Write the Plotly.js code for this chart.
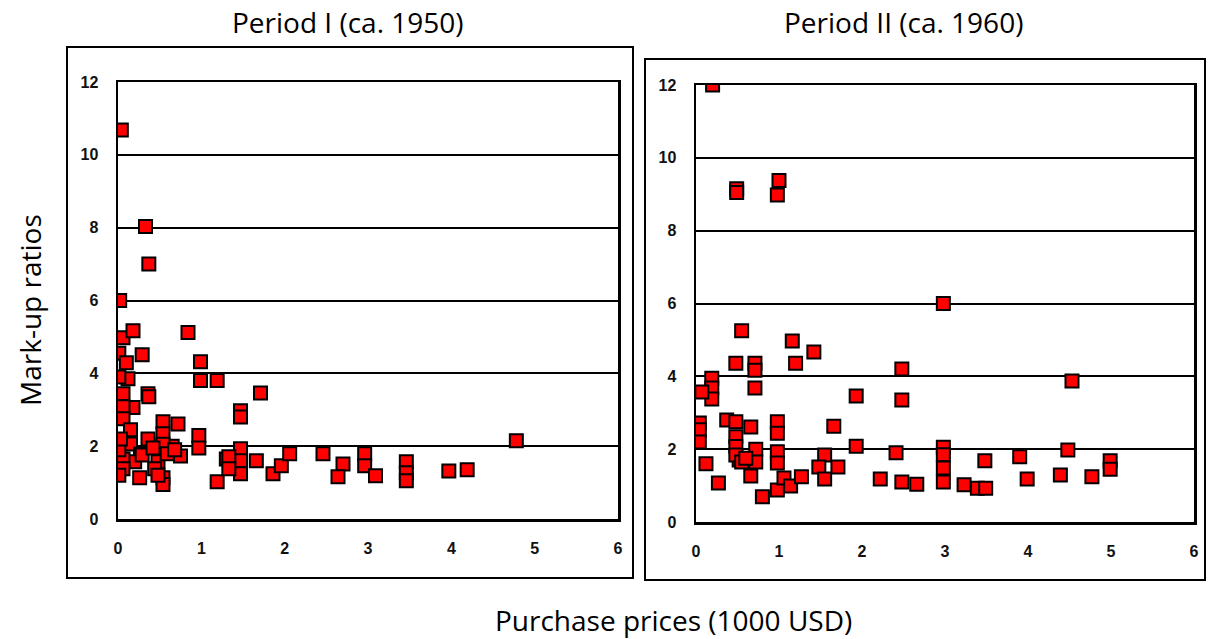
<!DOCTYPE html>
<html>
<head>
<meta charset="utf-8">
<script src="https://cdn.plot.ly/plotly-3.0.1.min.js"></script>
<style>html,body{margin:0;padding:0;background:#fff;}#chart{width:1209px;height:639px;}</style>
</head>
<body>
<div id="chart"></div>
<script>
// Period I (ca. 1950): purchase price (1000 USD) and mark-up ratio
const period1Price = [0.04,0.33,0.37,0.02,0.06,0.18,0.84,0.29,0.01,0.10,0.99,0.12,0.01,0.99,1.19,0.06,0.36,0.37,1.71,1.47,1.47,0.18,0.06,0.06,0.15,0.54,0.72,0.54,0.97,0.97,0.36,0.15,0.65,0.54,0.27,0.75,0.20,0.48,0.59,0.06,0.06,0.01,0.01,0.03,0.26,0.54,0.54,0.44,1.19,1.30,1.47,1.47,1.47,1.33,1.33,1.66,1.86,1.96,2.06,2.46,2.70,2.64,2.96,2.96,3.09,3.46,3.46,3.46,3.97,4.19,4.78,0.29,0.48,0.68,0.42];
const period1Markup = [10.68,8.03,7.00,6.00,4.98,5.17,5.12,4.51,4.55,4.29,4.32,3.85,3.90,3.80,3.80,3.44,3.44,3.36,3.46,2.97,2.80,3.06,3.08,2.75,2.45,2.67,2.61,2.34,2.29,1.95,2.20,2.06,2.00,2.05,1.78,1.73,1.57,1.57,1.79,1.65,1.38,1.90,1.20,2.20,1.13,1.13,0.95,1.38,1.02,1.65,1.93,1.60,1.24,1.71,1.38,1.60,1.24,1.46,1.79,1.79,1.51,1.16,1.79,1.46,1.19,1.57,1.27,1.05,1.32,1.35,2.15,1.76,1.20,1.90,1.95];

// Period II (ca. 1960)
const period2Price = [0.20,0.49,0.49,0.98,1.00,2.98,0.55,1.16,1.42,0.48,1.20,0.71,0.71,0.71,0.19,0.19,0.19,0.07,2.48,2.48,1.93,1.66,1.93,2.41,2.22,2.48,2.66,0.04,0.04,0.04,0.37,0.48,0.66,0.48,0.48,0.98,0.98,0.72,0.72,0.52,0.48,0.98,0.98,0.12,0.27,0.66,0.80,0.98,1.06,1.14,1.27,1.55,1.48,1.71,1.55,2.98,2.98,2.98,2.98,3.23,3.39,3.49,3.48,3.90,3.99,4.39,4.48,4.53,4.77,4.99,4.99,0.55,0.60];
const period2Markup = [12.00,9.15,9.05,8.98,9.38,6.00,5.25,4.97,4.67,4.36,4.36,4.36,4.17,3.68,3.95,3.68,3.38,3.57,4.20,3.35,3.46,2.63,2.08,1.90,1.18,1.10,1.04,2.72,2.53,2.20,2.80,2.75,2.61,2.34,2.07,2.75,2.44,2.00,1.65,1.70,1.84,1.93,1.62,1.60,1.07,1.26,0.69,0.88,1.21,0.99,1.24,1.84,1.51,1.51,1.18,2.05,1.85,1.48,1.10,1.02,0.93,0.93,1.68,1.79,1.18,1.29,1.98,3.87,1.24,1.68,1.45,1.65,1.75];

const xTicks = [0,1,2,3,4,5,6];
const yTicks = [0,2,4,6,8,10,12];
const panelTitles = ["Period I (ca. 1950)", "Period II (ca. 1960)"];
const xTitle = "Purchase prices (1000 USD)";
const yTitle = "Mark-up ratios";

const W = 1209, H = 639;
const px = v => v / W, py = v => 1 - v / H;

const marker = {symbol: 'square', size: 13, color: '#ff0000', line: {color: '#000', width: 2}};
const traces = [
  {x: period1Price, y: period1Markup, type: 'scatter', mode: 'markers', marker: marker, xaxis: 'x', yaxis: 'y', cliponaxis: true, hoverinfo: 'x+y'},
  {x: period2Price, y: period2Markup, type: 'scatter', mode: 'markers', marker: marker, xaxis: 'x2', yaxis: 'y2', cliponaxis: true, hoverinfo: 'x+y'}
];

const tickFont = {family: 'Liberation Sans, Arial, sans-serif', size: 16, color: '#111', weight: 'bold'};
function xAx(dom, anchor) {
  return {domain: dom, anchor: anchor, range: [0, 6], tickvals: xTicks, ticktext: xTicks.map(String),
    showgrid: false, zeroline: false, showline: true, mirror: true, linecolor: '#000', linewidth: 2.5,
    ticks: '', tickfont: tickFont, ticklabelstandoff: 13, fixedrange: true};
}
function yAx(dom, anchor) {
  return {domain: dom, anchor: anchor, range: [0, 12], tickvals: yTicks, ticktext: yTicks.map(String),
    showgrid: true, gridcolor: '#000', gridwidth: 2, zeroline: false, showline: true, mirror: true,
    linecolor: '#000', linewidth: 2.5, ticks: '', tickfont: tickFont, ticklabelstandoff: 14, fixedrange: true};
}

const titleFont = {family: 'Open Sans, Noto Sans, sans-serif', size: 28, color: '#000'};
const layout = {
  width: W, height: H, margin: {l: 0, r: 0, t: 0, b: 0},
  paper_bgcolor: '#fff', plot_bgcolor: '#fff', showlegend: false,
  xaxis: xAx([px(118), px(618)], 'y'),
  yaxis: yAx([py(519), py(82)], 'x'),
  xaxis2: xAx([px(696), px(1194)], 'y2'),
  yaxis2: yAx([py(522), py(85)], 'x2'),
  shapes: [
    {type: 'rect', xref: 'paper', yref: 'paper', x0: px(67), x1: px(633), y0: py(578), y1: py(47), line: {color: '#000', width: 2}},
    {type: 'rect', xref: 'paper', yref: 'paper', x0: px(645), x1: px(1205), y0: py(580), y1: py(59), line: {color: '#000', width: 2}}
  ],
  annotations: [
    {text: panelTitles[0], xref: 'paper', yref: 'paper', x: px(348), y: py(22), showarrow: false, font: titleFont, xanchor: 'center', yanchor: 'middle'},
    {text: panelTitles[1], xref: 'paper', yref: 'paper', x: px(903), y: py(22), showarrow: false, font: titleFont, xanchor: 'center', yanchor: 'middle'},
    {text: xTitle, xref: 'paper', yref: 'paper', x: px(673), y: py(620), showarrow: false, font: titleFont, xanchor: 'center', yanchor: 'middle'},
    {text: yTitle, xref: 'paper', yref: 'paper', x: px(30), y: py(310), showarrow: false, font: titleFont, textangle: -90, xanchor: 'center', yanchor: 'middle'}
  ]
};

Plotly.newPlot('chart', traces, layout, {displayModeBar: false, staticPlot: true});
</script>
</body>
</html>
